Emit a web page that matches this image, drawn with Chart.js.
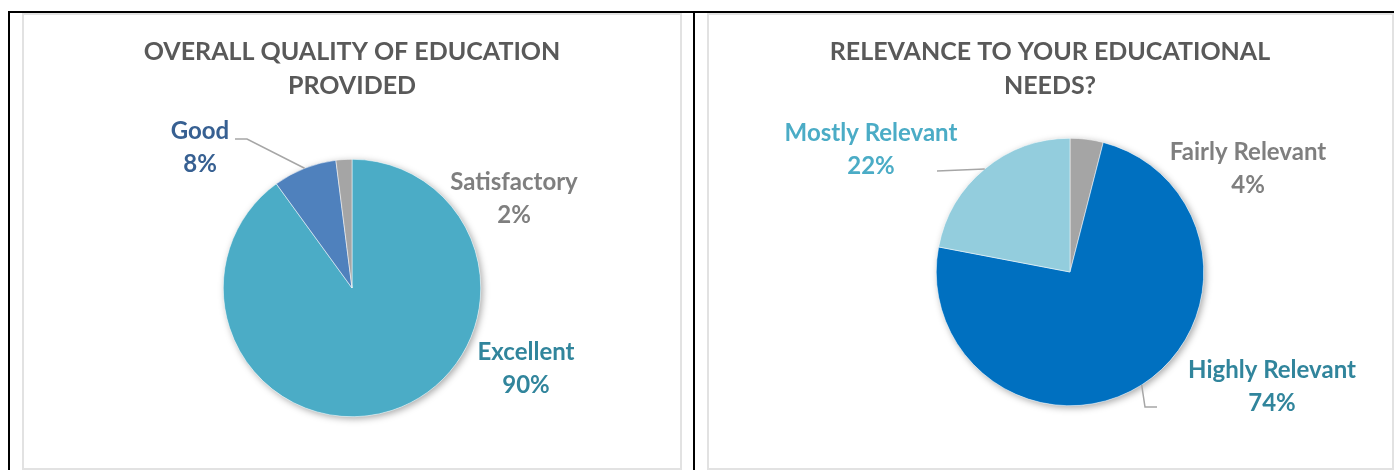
<!DOCTYPE html>
<html>
<head>
<meta charset="utf-8">
<script src="https://cdn.jsdelivr.net/npm/chart.js@4.4.1/dist/chart.umd.min.js"></script>
<style>
  body { margin: 0; background: #fff; width: 1394px; height: 470px; overflow: hidden; position: relative; }
  .rule { position: absolute; background: #000; }
  .box { position: absolute; border: 2px solid #e2e2e2; box-sizing: border-box; }
  canvas { position: absolute; }
</style>
</head>
<body>
<div class="rule" style="left:8px; top:11px; width:1386px; height:2px;"></div>
<div class="rule" style="left:8px; top:11px; width:2px; height:459px;"></div>
<div class="rule" style="left:693px; top:11px; width:2px; height:459px;"></div>
<div class="box" style="left:22px; top:13px; width:660px; height:457px;"></div>
<div class="box" style="left:707px; top:13px; width:687px; height:457px;"></div>
<canvas id="qualityChart" width="660" height="457" style="left:22px; top:12px;"></canvas>
<canvas id="relevanceChart" width="684" height="457" style="left:708px; top:12px;"></canvas>
<script>
// Overall quality of education provided
var qualityLabels = ['Excellent', 'Good', 'Satisfactory'];
var qualityValues = [90, 8, 2];
var qualityColors = ['#4BACC6', '#4F81BD', '#A5A5A5'];
var qualityTextColors = ['#31859C', '#376092', '#7F7F7F'];

// Relevance to your educational needs
var relevanceLabels = ['Fairly Relevant', 'Highly Relevant', 'Mostly Relevant'];
var relevanceValues = [4, 74, 22];
var relevanceColors = ['#A5A5A5', '#0070C0', '#93CDDD'];
var relevanceTextColors = ['#7F7F7F', '#31859C', '#4BACC6'];

var fontFamily = 'Lato, "Open Sans", sans-serif';

// soft shadow under the pie, like the office default
var pieShadow = {
    id: 'pieShadow',
    beforeDatasetsDraw: function (chart) {
        var arc = chart.getDatasetMeta(0).data[0];
        var ctx = chart.ctx;
        ctx.save();
        ctx.shadowColor = 'rgba(0,0,0,0.35)';
        ctx.shadowBlur = 7;
        ctx.shadowOffsetX = 2;
        ctx.shadowOffsetY = 2;
        ctx.fillStyle = '#fff';
        ctx.beginPath();
        ctx.arc(arc.x, arc.y, arc.outerRadius, 0, Math.PI * 2);
        ctx.fill();
        ctx.restore();
    }
};

// title centred on the whole cell (the pie itself sits off-centre in the right one)
var cellTitle = {
    id: 'cellTitle',
    afterDraw: function (chart, args, opts) {
        var ctx = chart.ctx;
        ctx.save();
        ctx.font = 'bold 25px ' + fontFamily;
        ctx.fillStyle = '#595959';
        ctx.textAlign = 'center';
        ctx.textBaseline = 'middle';
        opts.lines.forEach(function (line, i) {
            ctx.fillText(line, chart.width / 2, 40 + i * 34);
        });
        ctx.restore();
    }
};

// outside labels with leader lines; offsets are relative to the pie centre
var outsideLabels = {
    id: 'outsideLabels',
    afterDatasetsDraw: function (chart, args, opts) {
        var ctx = chart.ctx;
        var meta = chart.getDatasetMeta(0);
        var ds = chart.data.datasets[0];
        var total = ds.data.reduce(function (a, b) { return a + b; }, 0);
        meta.data.forEach(function (arc, i) {
            var place = opts.places[i];
            var mid = (arc.startAngle + arc.endAngle) / 2;
            var ax = arc.x + Math.cos(mid) * arc.outerRadius;
            var ay = arc.y + Math.sin(mid) * arc.outerRadius;

            if (place.leader) {
                ctx.save();
                ctx.strokeStyle = '#A6A6A6';
                ctx.lineWidth = 1.5;
                ctx.beginPath();
                ctx.moveTo(ax, ay);
                place.leader.forEach(function (p) {
                    ctx.lineTo(arc.x + p[0], arc.y + p[1]);
                });
                ctx.stroke();
                ctx.restore();
            }

            var tx = arc.x + place.dx;
            var ty = arc.y + place.dy;
            ctx.save();
            ctx.font = 'bold 24px ' + fontFamily;
            ctx.fillStyle = opts.colors[i];
            ctx.textAlign = 'center';
            ctx.textBaseline = 'middle';
            ctx.fillText(chart.data.labels[i], tx, ty);
            ctx.fillText(Math.round(ds.data[i] / total * 100) + '%', tx, ty + 33);
            ctx.restore();
        });
    }
};

function makePie(id, labels, values, colors, textColors, title, layoutPad, places) {
    var ctx = document.getElementById(id).getContext('2d');
    return new Chart(ctx, {
        type: 'pie',
        data: {
            labels: labels,
            datasets: [{
                data: values,
                backgroundColor: colors,
                borderColor: '#ffffff',
                borderWidth: 0.5
            }]
        },
        options: {
            responsive: false,
            animation: false,
            devicePixelRatio: 1,
            layout: { padding: layoutPad },
            plugins: {
                legend: { display: false },
                tooltip: { enabled: false },
                title: { display: false },
                cellTitle: { lines: title },
                outsideLabels: { places: places, colors: textColors }
            }
        },
        plugins: [pieShadow, cellTitle, outsideLabels]
    });
}

makePie('qualityChart', qualityLabels, qualityValues, qualityColors, qualityTextColors,
    ['OVERALL QUALITY OF EDUCATION', 'PROVIDED'],
    { top: 147, bottom: 52, left: 0, right: 0 },
    [
        { dx: 174, dy: 64 },
        { dx: -152, dy: -157, leader: [[-105, -149], [-117, -149]] },
        { dx: 162, dy: -106 }
    ]);

makePie('relevanceChart', relevanceLabels, relevanceValues, relevanceColors, relevanceTextColors,
    ['RELEVANCE TO YOUR EDUCATIONAL', 'NEEDS?'],
    { top: 126, bottom: 63, left: 40, right: 0 },
    [
        { dx: 178, dy: -120 },
        { dx: 202, dy: 98, leader: [[75, 135], [87, 135]] },
        { dx: -199, dy: -139, leader: [[-133, -101]] }
    ]);
</script>
</body>
</html>
